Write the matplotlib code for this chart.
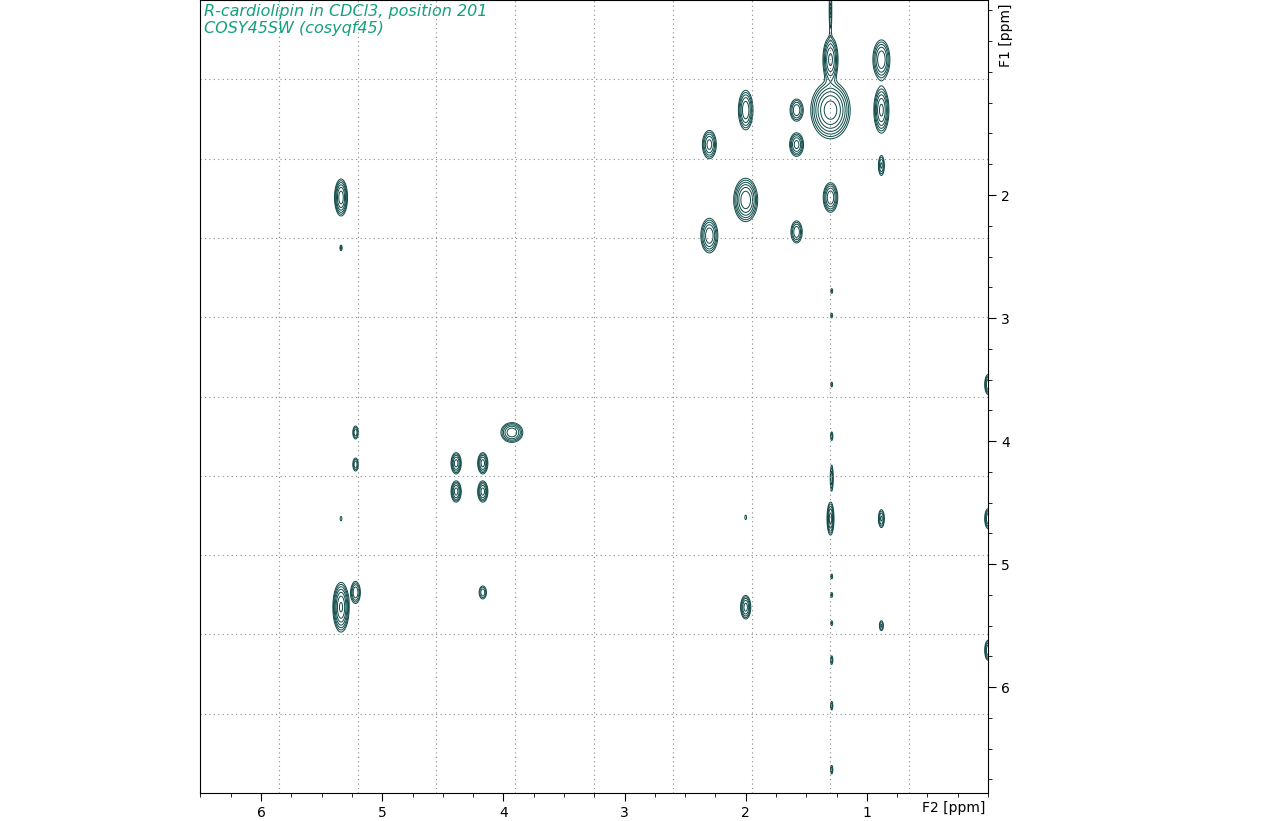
import numpy as np
import matplotlib
matplotlib.use("Agg")
import matplotlib.pyplot as plt
from matplotlib.ticker import MultipleLocator

# Cross peaks: F2 (ppm), F1 (ppm), amplitude, F2 width, F1 width
peak_f2 = [5.34, 5.34, 5.34, 5.34, 5.22, 5.22, 5.22, 4.39, 4.39, 4.17, 4.17, 3.93, 4.17,
           2.30, 2.30, 2.00, 2.00, 2.00, 2.00, 1.58, 1.58, 1.58,
           1.30, 1.30, 1.30, 1.30, 1.30, 0.88, 0.88, 0.88, 0.88, 0.88,
           0.00, 0.00, 0.00,
           1.29, 1.29, 1.29, 1.29, 1.29, 1.29, 1.29, 1.29, 1.29, 1.29, 1.29]
peak_f1 = [2.02, 2.43, 5.35, 4.63, 5.23, 3.93, 4.19, 4.18, 4.41, 4.18, 4.41, 3.93, 5.23,
           1.59, 2.33, 1.31, 2.04, 5.35, 4.62, 1.31, 1.59, 2.30,
           0.90, 1.31, 2.02, 4.63, 0.50, 0.90, 1.31, 1.76, 4.63, 5.50,
           3.54, 4.63, 5.70,
           2.78, 2.98, 3.54, 3.96, 4.30, 5.10, 5.25, 5.48, 5.78, 6.15, 6.67]
peak_amp = [8, 1.5, 10, 1.2, 4, 2.5, 2.5, 5, 5, 5, 5, 6, 2.5,
            5, 6, 6, 9, 5, 1.2, 4, 5, 4,
            7, 12, 6, 5, 2, 6, 7, 3, 3, 2,
            4, 4, 4,
            1.3, 1.3, 1.3, 1.6, 2.5, 1.3, 1.3, 1.3, 1.6, 1.6, 1.6]
peak_w2 = [0.025, 0.008, 0.03, 0.008, 0.022, 0.015, 0.015, 0.022, 0.022, 0.022, 0.022, 0.045, 0.02,
           0.03, 0.035, 0.03, 0.045, 0.022, 0.008, 0.03, 0.03, 0.026,
           0.03, 0.07, 0.03, 0.015, 0.008, 0.035, 0.03, 0.015, 0.015, 0.012,
           0.015, 0.015, 0.015,
           0.008, 0.008, 0.008, 0.008, 0.008, 0.008, 0.008, 0.008, 0.008, 0.008, 0.008]
peak_w1 = [0.07, 0.02, 0.09, 0.02, 0.05, 0.035, 0.035, 0.045, 0.045, 0.045, 0.045, 0.04, 0.035,
           0.06, 0.07, 0.08, 0.08, 0.05, 0.02, 0.05, 0.05, 0.05,
           0.09, 0.1, 0.06, 0.07, 0.13, 0.08, 0.09, 0.05, 0.045, 0.03,
           0.045, 0.045, 0.045,
           0.02, 0.02, 0.02, 0.03, 0.07, 0.02, 0.02, 0.02, 0.03, 0.03, 0.03]

title_lines = ["R-cardiolipin in CDCl3, position 201", "COSY45SW (cosyqf45)"]

fig = plt.figure(figsize=(12.84, 8.21), dpi=100)
ax = fig.add_axes([200/1284, 28/821, 788/1284, 793/821])

x = np.linspace(0.0, 6.5, 1600)
y = np.linspace(0.415, 6.86, 1600)
X, Y = np.meshgrid(x, y)
Z = np.zeros_like(X)
for f2, f1, a, w2, w1 in zip(peak_f2, peak_f1, peak_amp, peak_w2, peak_w1):
    Z += a * np.exp(-((X - f2) / w2) ** 2 / 2 - ((Y - f1) / w1) ** 2 / 2)
levels = 0.8 * 1.5 ** np.arange(7)
ax.contour(X, Y, Z, levels=levels, colors="#0e4a48", linewidths=0.7)

ax.set_xlim(6.504, 0.0)
ax.set_ylim(6.86, 0.415)
ax.yaxis.tick_right()
ax.yaxis.set_label_position("right")
ax.xaxis.set_minor_locator(MultipleLocator(0.25))
ax.yaxis.set_minor_locator(MultipleLocator(0.25))
ax.tick_params(which="major", length=6, labelsize=10, direction="out")
ax.tick_params(which="minor", length=3, direction="out")
ax.set_xticks([1, 2, 3, 4, 5, 6])
ax.set_yticks([2, 3, 4, 5, 6])

for i in range(1, 10):
    ax.axvline(6.504 - i * 0.6504, color="#888888", ls=(0, (1, 3)), lw=0.8)
    ax.axhline(0.415 + i * 0.6445, color="#888888", ls=(0, (1, 3)), lw=0.8)

ax.text(0.005, 0.995, "\n".join(title_lines), transform=ax.transAxes, ha="left", va="top",
        fontsize=11.5, style="italic", color="#13a07f", linespacing=1.15)
fig.text(922/1284, 1 - 808/821, "F2 [ppm]", fontsize=10, va="center")
fig.text(1006/1284, 1 - 35/821, "F1 [ppm]", fontsize=10, rotation=90, ha="center", va="center")

fig.savefig("out.png", dpi=100)
